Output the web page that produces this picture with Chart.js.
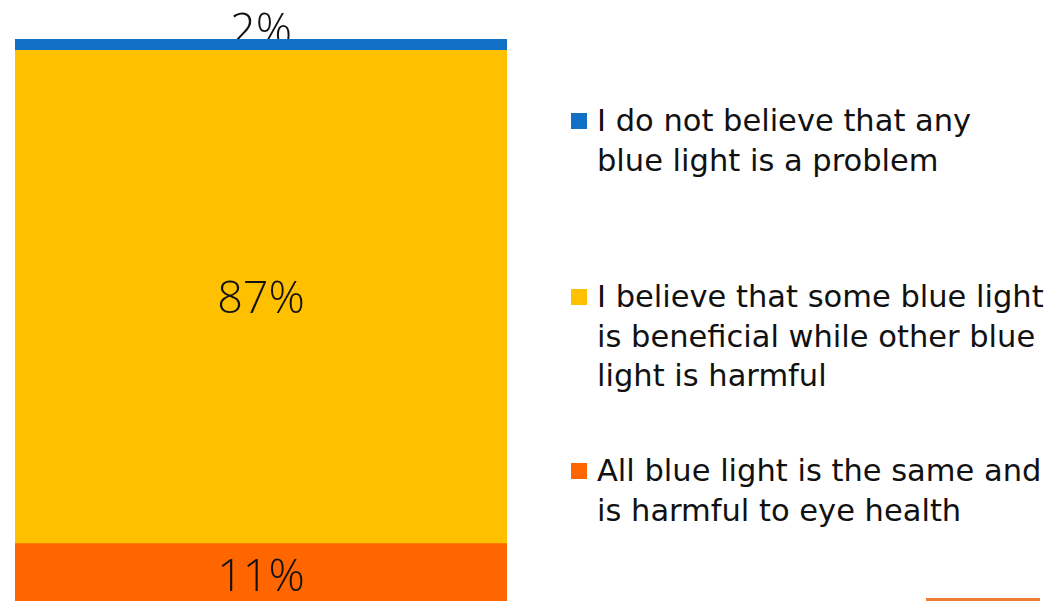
<!DOCTYPE html>
<html>
<head>
<meta charset="utf-8">
<script src="https://cdn.jsdelivr.net/npm/chart.js@4/dist/chart.umd.min.js"></script>
<style>
  html, body { margin: 0; padding: 0; background: #fff; overflow: hidden; }
  body { width: 1053px; height: 601px; position: relative; }
  .bar-box { position: absolute; left: 15px; top: 0; width: 492px; height: 606px; }
  .legend-item { position: absolute; left: 597px; font-family: "DejaVu Sans", sans-serif; font-size: 30.5px; line-height: 39.5px; color: #111; white-space: nowrap; }
  .legend-item .box { position: absolute; left: -26px; width: 16px; height: 16px; top: 12px; }
  .deco-line { position: absolute; left: 926px; top: 598px; width: 114px; height: 3px; background: #ED7D31; }
</style>
</head>
<body>
<div class="bar-box"><canvas id="blueLightChart"></canvas></div>
<div id="legend"></div>
<div class="deco-line"></div>
<script>
// 数据 (从下往上)
const categories = ['Responses'];
const seriesLabels = [
    ['All blue light is the same and', 'is harmful to eye health'],
    ['I believe that some blue light', 'is beneficial while other blue', 'light is harmful'],
    ['I do not believe that any', 'blue light is a problem']
];
const seriesValues = [11, 87, 2];
const seriesColors = ['#FF6600', '#FFC000', '#1170C6'];

// 图例位置 (每一项第一行的顶部)
const legendTops = [451, 277, 101];

const datasets = seriesLabels.map((label, i) => ({
    label: label,
    data: [seriesValues[i]],
    backgroundColor: seriesColors[i],
    borderWidth: 0,
    categoryPercentage: 1,
    barPercentage: 1
}));

// 百分比标签
const valueLabels = {
    id: 'valueLabels',
    beforeDatasetsDraw(chart) {
        drawLabels(chart, true);
    },
    afterDatasetsDraw(chart) {
        drawLabels(chart, false);
    }
};

function drawLabels(chart, smallOnly) {
    const ctx = chart.ctx;
    ctx.save();
    ctx.font = '300 45px "Open Sans", sans-serif';
    ctx.fillStyle = '#111';
    ctx.textAlign = 'center';
    chart.data.datasets.forEach((ds, i) => {
        const meta = chart.getDatasetMeta(i);
        meta.data.forEach((bar, j) => {
            const text = ds.data[j] + '%';
            const h = Math.abs(bar.base - bar.y);
            const small = h < 40;
            if (small !== smallOnly) return;
            if (small) {
                // 太小: 写在柱子上方, 被柱子压住一点
                ctx.textBaseline = 'alphabetic';
                ctx.fillText(text, bar.x, bar.y + 6);
            } else {
                ctx.textBaseline = 'middle';
                const bottom = Math.min(bar.base, chart.height);
                ctx.fillText(text, bar.x, (bar.y + bottom) / 2 + 3);
            }
        });
    });
    ctx.restore();
}

const blueLightChart = new Chart(document.getElementById('blueLightChart'), {
    type: 'bar',
    data: { labels: categories, datasets: datasets },
    options: {
        responsive: true,
        maintainAspectRatio: false,
        animation: false,
        layout: { padding: { top: 39, left: 0, right: 0, bottom: 0 } },
        scales: {
            x: { stacked: true, display: false },
            y: { stacked: true, display: false, min: 0, max: 100 }
        },
        plugins: {
            legend: { display: false },
            tooltip: { enabled: false }
        }
    },
    plugins: [valueLabels]
});

// HTML图例
const legendEl = document.getElementById('legend');
blueLightChart.data.datasets.forEach((ds, i) => {
    const item = document.createElement('div');
    item.className = 'legend-item';
    item.style.top = legendTops[i] + 'px';
    item.innerHTML = '<span class="box" style="background:' + ds.backgroundColor + '"></span>' + ds.label.join('<br>');
    legendEl.appendChild(item);
});
</script>
</body>
</html>
